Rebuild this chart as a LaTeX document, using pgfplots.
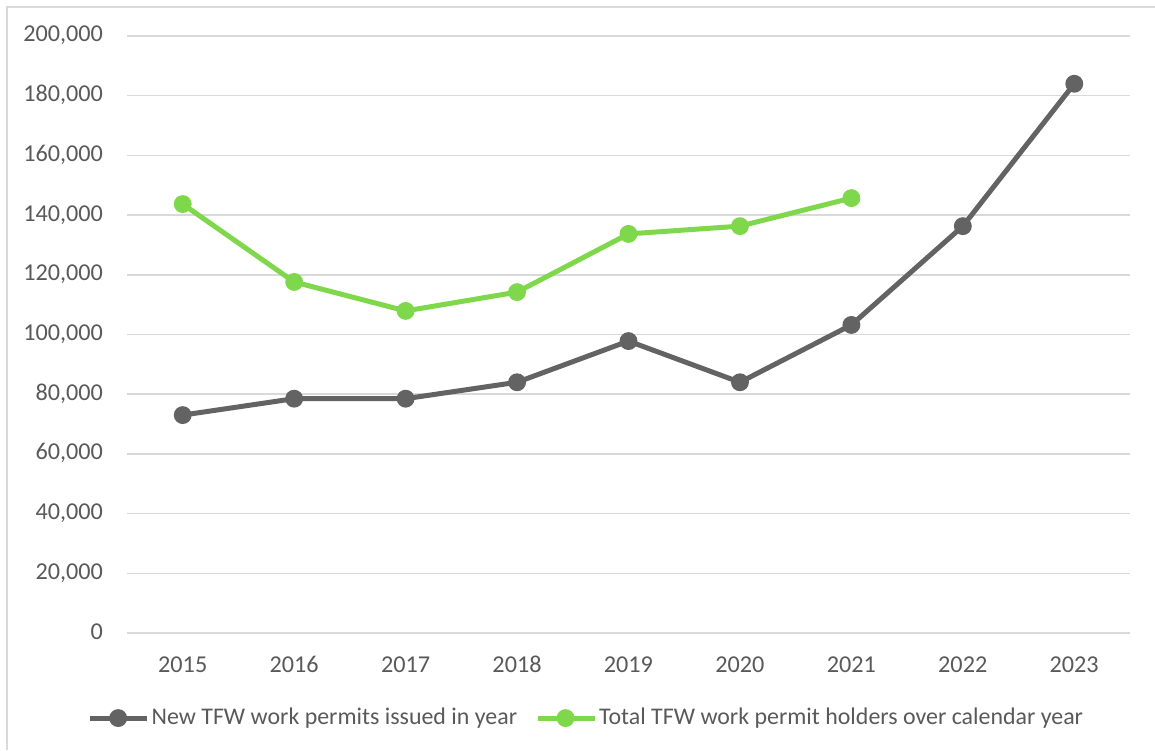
\documentclass[border=0pt]{standalone}
\usepackage{pgfplots}
\pgfplotsset{compat=1.18}
\usepackage{fontspec}
\setmainfont{Carlito}
\definecolor{grayline}{RGB}{99,99,99}
\definecolor{greenline}{RGB}{127,216,75}
\definecolor{gridc}{RGB}{217,217,217}
\definecolor{txt}{RGB}{89,89,89}
\begin{document}
\begin{tikzpicture}
\useasboundingbox (0,0) rectangle (577.5pt,375pt);
\draw[gridc,line width=0.75pt] (3.5pt,0pt) -- (3.5pt,371.5pt) -- (577.5pt,371.5pt);
\begin{axis}[
  at={(63.5pt,58.5pt)}, anchor=south west,
  width=501.5pt, height=298.5pt, scale only axis,
  xmin=2014.5, xmax=2023.5,
  ymin=0, ymax=200000,
  xtick={2015,...,2023},
  ytick={0,20000,...,200000},
  scaled y ticks=false,
  typeset ticklabels with strut,
  xticklabel style={/pgf/number format/1000 sep={}, yshift=-5.5pt},
  yticklabel style={/pgf/number format/fixed, /pgf/number format/1000 sep={,}, xshift=-8.5pt},
  /pgf/number format/assume math mode=true,
  ymajorgrids, grid style={gridc, line width=0.75pt},
  axis line style={draw=none},
  major tick style={draw=none},
  ticklabel style={font=\fontsize{12.1}{15}\selectfont, text=txt},
  legend style={at={(0.458,-0.1425)}, anchor=center, draw=none, fill=none,
    font=\fontsize{11.95}{15}\selectfont, text=txt,
    legend columns=2, /tikz/every even column/.append style={column sep=8pt},
    nodes={inner xsep=1pt}},
  legend cell align=left,
  legend image code/.code={\draw[mark repeat=2,mark phase=2,#1] plot coordinates {(0pt,0pt) (14pt,0pt) (28.5pt,0pt)};},
]
\addplot[grayline, line width=2.5pt, mark=*, mark size=3.2pt, mark options={solid}] coordinates {
(2015,73000) (2016,78500) (2017,78500) (2018,84000) (2019,97800) (2020,84000) (2021,103200) (2022,136300) (2023,184000)};
\addlegendentry{New TFW work permits issued in year}
\addplot[greenline, line width=2.5pt, mark=*, mark size=3.2pt, mark options={solid}] coordinates {
(2015,143700) (2016,117600) (2017,107900) (2018,114200) (2019,133700) (2020,136300) (2021,145700)};
\addlegendentry{Total TFW work permit holders over calendar year}
\end{axis}
\end{tikzpicture}
\end{document}
